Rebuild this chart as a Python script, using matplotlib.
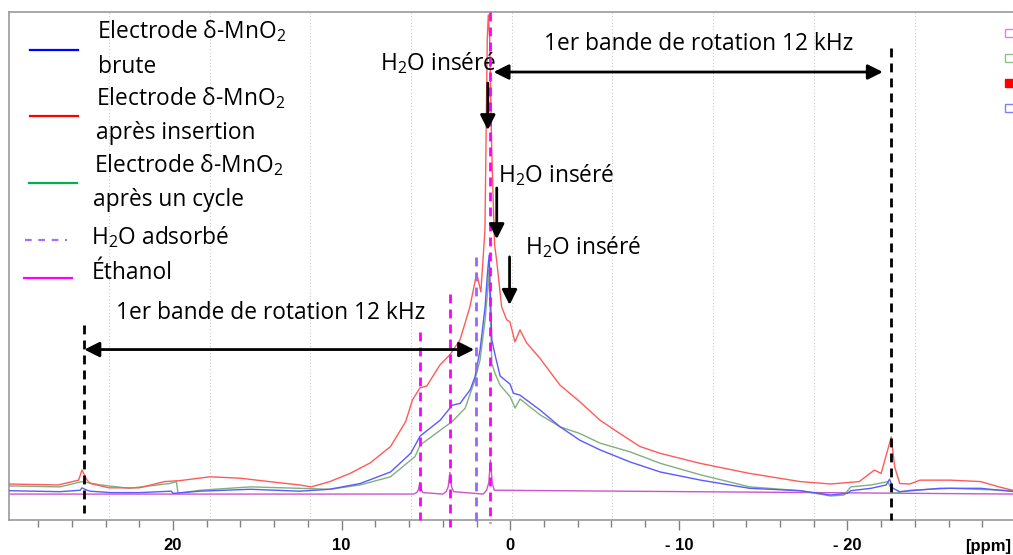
import matplotlib
matplotlib.use("Agg")
import matplotlib.pyplot as plt
from matplotlib.patches import Rectangle
from matplotlib.lines import Line2D
from matplotlib.ticker import MultipleLocator as Ml

plt.rcParams['font.family'] = ['Open Sans', 'DejaVu Sans']
plt.rcParams['mathtext.fontset'] = 'custom'
plt.rcParams['mathtext.rm'] = 'Open Sans'

# spectra (ppm, intensity a.u.)
red_ppm = [29.8, 26.8, 25.6, 25.4, 25.1, 24.9, 23.8, 22.0, 20.5, 19.6, 17.8, 16.0, 14.3, 12.5, 11.8,
           10.7, 9.5, 8.3, 7.1, 6.2, 5.8, 5.36, 4.95, 4.17, 3.58, 2.98, 2.39, 1.99, 1.74,
           1.50, 1.44, 1.36, 1.30, 1.22, 1.10, 0.93, 0.81, 0.51, 0.21, 0.02, -0.28, -0.58, -0.97,
           -1.76, -2.95, -4.14, -5.32, -6.51, -7.70, -8.88, -11.26, -14.2, -17.2, -19.0, -20.7,
           -21.6, -22.0, -22.6, -22.8, -23.1, -23.7, -24.3, -26.1, -27.9, -29.1, -29.9]
red_int = [2.1, 1.9, 2.9, 5.0, 2.9, 2.2, 1.3, 1.3, 2.6, 2.8, 3.6, 3.3, 2.6, 1.9, 1.5,
           2.6, 4.3, 6.5, 9.9, 15.1, 19.6, 22.1, 22.5, 26.9, 29.0, 32.1, 39.0, 46.0, 42.1,
           55.0, 72.0, 95.0, 99.8, 95.0, 72.0, 52.0, 48.8, 39.0, 36.3, 35.9, 31.7, 34.2, 31.5,
           28.3, 22.7, 19.2, 15.4, 12.6, 9.9, 8.5, 6.4, 4.3, 2.6, 2.1, 2.6,
           5.0, 4.3, 11.9, 5.7, 2.2, 2.1, 2.9, 2.9, 2.6, 1.4, 0.7]

blue_ppm = [29.7, 26.7, 25.5, 25.4, 25.1, 24.9, 23.7, 22.0, 20.1, 20.0, 18.4, 15.4, 12.5, 10.7,
            8.9, 7.1, 5.9, 5.34, 4.15, 3.44, 2.97, 2.38, 2.09, 1.79, 1.49, 1.35, 1.25, 1.09,
            0.90, 0.60, 0.01, -0.19, -0.58, -1.77, -2.96, -4.14, -5.33, -7.1, -8.9, -11.3,
            -14.2, -17.2, -19.0, -20.0, -20.2, -21.4, -22.3, -22.5, -22.7, -23.1, -25.5, -27.9, -29.9]
blue_int = [0.7, 0.5, 0.8, 1.3, 0.8, 0.6, 0.3, 0.3, 0.6, 0.15, 0.6, 1.0, 0.6, 1.0,
            2.2, 4.6, 8.5, 12.1, 15.4, 18.5, 18.9, 21.7, 24.4, 30.0, 39.0, 46.0, 49.8, 32.1,
            29.0, 24.6, 22.9, 21.0, 20.6, 17.5, 14.0, 11.2, 9.2, 6.7, 4.6, 2.9,
            1.2, 0.7, -0.2, 0.15, 0.7, 1.2, 1.9, 3.1, 1.2, 0.5, 1.2, 1.2, 0.5]

green_ppm = [29.7, 26.7, 25.4, 24.3, 22.6, 20.2, 19.8, 19.7, 18.4, 15.4, 12.5, 10.7, 8.9, 7.1,
             5.65, 5.34, 4.15, 3.44, 2.67, 2.09, 1.79, 1.49, 1.35, 1.27, 1.09, 0.90, 0.60, 0.01,
             -0.29, -0.58, -1.77, -2.96, -4.14, -5.33, -7.1, -8.9, -11.3, -14.2, -17.2, -19.0,
             -19.8, -20.2, -21.4, -22.4, -22.7, -23.7, -26.1, -29.9]
green_int = [1.7, 1.5, 2.6, 1.9, 1.2, 2.2, 2.6, 0.15, 0.8, 1.5, 1.2, 1.0, 1.9, 3.6,
             7.8, 10.2, 13.3, 15.1, 17.9, 23.8, 27.9, 36.3, 41.9, 46.7, 27.2, 25.1, 22.7, 20.3,
             17.9, 19.8, 16.5, 14.0, 12.6, 10.6, 8.8, 6.4, 4.0, 1.5, 0.7, -0.4,
             -0.2, 1.5, 1.9, 2.6, 0.15, 0.8, 1.2, 0.7]

eth_ppm = [29.9, 5.75, 5.55, 5.45, 5.36, 5.27, 5.17, 4.0, 3.8, 3.68, 3.58, 3.48, 3.36,
           1.6, 1.4, 1.27, 1.17, 1.07, 0.95, -29.9]
eth_int = [0, 0, 0.3, 0.9, 2.4, 0.9, 0.3, 0, 0.5, 1.5, 4.5, 1.5, 0.5, 0, 0.8, 2.4, 7.1, 2.4, 0.8, 0]

# reference lines (ppm, y from, y to)
spin_lines = [(25.26, 35.2, -4.0), (-22.59, 92.9, -5.4)]
eth_lines = [(5.33, 33.8, -5.4), (3.57, 41.7, -6.9), (1.19, 100.4, -6.0)]
h2o_ads_line = (2.04, 49.4, -6.9)
grid_ppm = [23.8, 17.8, 11.85, 5.9, -0.1, -6.05, -12.0, -18.0, -24.0]

W, H = 1013, 555
def px(x, y):
    return x / W, 1 - y / H

fig = plt.figure(figsize=(W / 100, H / 100), dpi=100)
ax = fig.add_axes([9.3 / W, 35 / H, 1 - 9.3 / W, 508 / H])
ax.set_xlim(29.71, -29.82)
ax.set_ylim(-5.4, 100.4)

for g in grid_ppm:
    ax.axvline(g, color='#c8c8c8', lw=0.8, ls=(0, (1, 2)), zorder=0)

ax.plot(eth_ppm, eth_int, color='#cc55cc', lw=1.0, zorder=2)
ax.plot(green_ppm, green_int, color='#80b080', lw=1.0, zorder=2)
ax.plot(blue_ppm, blue_int, color='#5a5aff', lw=1.0, zorder=3)
ax.plot(red_ppm, red_int, color='#ff5a5a', lw=1.0, zorder=3)

dash = (0, (3.2, 2.2))
for x, y0, y1 in spin_lines:
    ax.plot([x, x], [y0, y1], color='black', lw=2, ls=dash, clip_on=False, zorder=4)
for x, y0, y1 in eth_lines:
    ax.plot([x, x], [y0, y1], color='#ff00ff', lw=2, ls=dash, clip_on=False, zorder=4)
x, y0, y1 = h2o_ads_line
ax.plot([x, x], [y0, y1], color='#9966ff', lw=2, ls=dash, clip_on=False, zorder=4)

# arrows
def arrow(start, end, style='-|>'):
    ax.annotate('', xy=end, xytext=start,
                arrowprops=dict(arrowstyle=style + ',head_length=0.6,head_width=0.3',
                                color='black', lw=2, mutation_scale=15,
                                shrinkA=0, shrinkB=0), zorder=5)

arrow((0.99, 87.9), (-22.1, 87.9), '<|-|>')
arrow((25.26, 30.1), (2.14, 30.1), '<|-|>')
arrow((1.33, 85.6), (1.33, 75.8))
arrow((0.80, 63.75), (0.80, 53.1))
arrow((0.04, 49.4), (0.04, 39.4))

fs = 16.4
ax.text(-11.18, 93.75, '1er bande de rotation 12 kHz', fontsize=fs, ha='center', va='center')
ax.text(14.24, 37.7, '1er bande de rotation 12 kHz', fontsize=fs, ha='center', va='center')
h2o = 'H$_{\\mathrm{2}}$O inséré'
ax.text(4.26, 89.8, h2o, fontsize=fs, ha='center', va='center')
ax.text(-2.72, 66.5, h2o, fontsize=fs, ha='center', va='center')
ax.text(-4.34, 51.5, h2o, fontsize=fs, ha='center', va='center')

# axes styling
for s in ['top', 'left', 'bottom']:
    ax.spines[s].set_color('#9a9a9a')
    ax.spines[s].set_linewidth(1.2)
ax.spines['right'].set_visible(False)
ax.set_yticks([])
ax.set_xticks([20, 10, 0, -10, -20])
ax.set_xticklabels(['20', '10', '0', '- 10', '- 20'], fontweight='bold',
                   fontsize=12, family='Liberation Sans')
ax.xaxis.set_minor_locator(Ml(2))
ax.tick_params(axis='x', which='major', length=7, width=1, color='#808080', pad=6)
ax.tick_params(axis='x', which='minor', length=5, width=1, color='#808080')
fig.text(*px(988, 546), '[ppm]', fontweight='bold', fontsize=12, family='Liberation Sans',
         ha='center', va='center')

# legend drawn by hand
mno2 = 'Electrode δ-MnO$_{\\mathrm{2}}$'
leg_lines = [(30, 78, 50, '#0000ff', '-'), (30, 78, 116, '#ff0000', '-'),
             (29, 77, 183, '#00b050', '-'), (25, 67, 240, '#a070ff', (0, (3, 3))),
             (24, 72, 278, '#ff00ff', '-')]
for x0, x1, y, c, ls in leg_lines:
    (a0, b0), (a1, b1) = px(x0, y), px(x1, y)
    fig.add_artist(Line2D([a0, a1], [b0, b1], color=c, lw=1.6, ls=ls))
leg_texts = [(97, 31, mno2), (98, 67, 'brute'), (96, 98, mno2), (96, 133, 'après insertion'),
             (94, 165, mno2), (93, 200, 'après un cycle'), (91, 237, 'H$_{\\mathrm{2}}$O adsorbé'),
             (92, 273, 'Éthanol')]
for x, y, t in leg_texts:
    fig.text(*px(x, y), t, fontsize=fs, ha='left', va='center')

# cut-off legend boxes at the right edge
for y, ec, fc in [(33, '#e080e0', 'white'), (58, '#90c090', 'white'),
                  (83, '#ff0000', '#ff0000'), (108, '#8080ff', 'white')]:
    x0, y0 = px(1005, y + 4)
    fig.add_artist(Rectangle((x0, y0), 10 / W, 8 / H, transform=fig.transFigure,
                             ec=ec, fc=fc, lw=1))

fig.savefig('out.png', dpi=100)
